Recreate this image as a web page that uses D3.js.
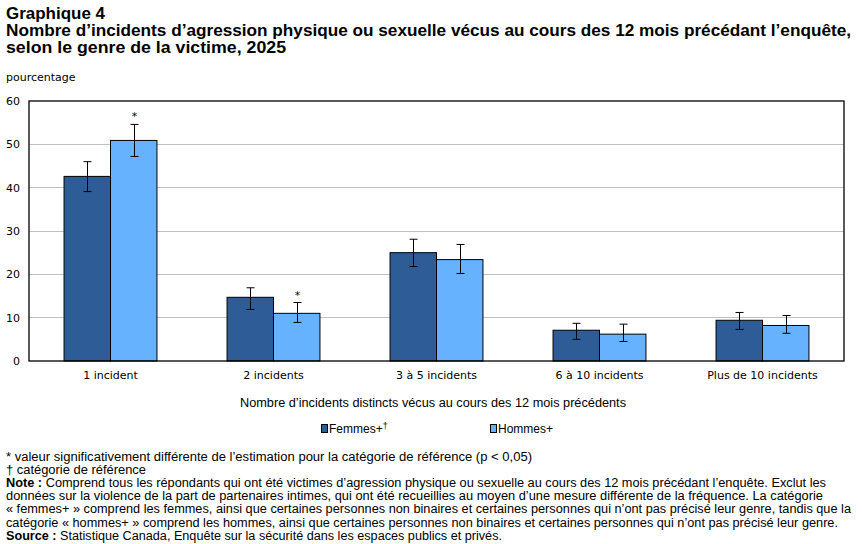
<!DOCTYPE html>
<html>
<head>
<meta charset="utf-8">
<script src="https://cdn.jsdelivr.net/npm/d3@7"></script>
<style>
body { margin: 0; background: #fff; }
svg text { fill: #000; }
</style>
</head>
<body>
<script>
// data
var categories = ["1 incident", "2 incidents", "3 à 5 incidents", "6 à 10 incidents", "Plus de 10 incidents"];
var seriesNames = ["Femmes+", "Hommes+"];
var femmes = [42.6, 14.7, 25.0, 7.1, 9.4];
var femmesLow = [39.1, 11.9, 21.8, 5.0, 7.3];
var femmesHigh = [46.0, 16.9, 28.1, 8.7, 11.2];
var hommes = [50.9, 11.0, 23.4, 6.2, 8.2];
var hommesLow = [47.2, 8.9, 20.2, 4.5, 6.4];
var hommesHigh = [54.6, 13.5, 26.9, 8.5, 10.5];
var hommesSig = [true, true, false, false, false];
var yTicks = [0, 10, 20, 30, 40, 50, 60];

var colors = ["#2E5C97", "#66B2FF"];

var width = 862, height = 544;
var margin = {top: 101, right: 18, bottom: 183, left: 29};

var svg = d3.select("body").append("svg")
    .attr("width", width)
    .attr("height", height)
    .style("font-family", "'DejaVu Sans', Verdana, sans-serif");

// title
var title = svg.append("g").style("font-family", "'Liberation Sans', Arial, sans-serif")
    .style("font-weight", "bold").style("font-size", "16px");
title.append("text").attr("x", 6).attr("y", 19).attr("textLength", 99).attr("lengthAdjust", "spacingAndGlyphs")
    .text("Graphique 4");
title.append("text").attr("x", 6).attr("y", 36).attr("textLength", 845).attr("lengthAdjust", "spacingAndGlyphs")
    .text("Nombre d’incidents d’agression physique ou sexuelle vécus au cours des 12 mois précédant l’enquête,");
title.append("text").attr("x", 6).attr("y", 53).attr("textLength", 280).attr("lengthAdjust", "spacingAndGlyphs")
    .text("selon le genre de la victime, 2025");

svg.append("text").attr("x", 6).attr("y", 81).style("font-size", "11px")
    .text("pourcentage");

var x = d3.scaleBand().domain(categories)
    .range([margin.left, width - margin.right])
    .paddingInner(0.43).paddingOuter(0.215);
var x1 = d3.scaleBand().domain(seriesNames).range([0, x.bandwidth()]);
var y = d3.scaleLinear().domain([0, 60]).range([height - margin.bottom, margin.top]);

// gridlines
svg.append("g").selectAll("line").data(yTicks.slice(1, -1)).join("line")
    .attr("x1", margin.left).attr("x2", width - margin.right)
    .attr("y1", d => y(d)).attr("y2", d => y(d))
    .attr("stroke", "#c0c0c0").attr("stroke-width", 1).attr("shape-rendering", "crispEdges");

var yAxis = svg.append("g").attr("transform", "translate(" + margin.left + ",0)")
    .call(d3.axisLeft(y).tickValues(yTicks).tickSize(0).tickPadding(9));
yAxis.select(".domain").remove();
yAxis.selectAll("text").style("font-size", "11px").style("font-family", "'DejaVu Sans', Verdana, sans-serif").attr("fill", "#000");

var rows = categories.map(function(c, i) {
    return [
        {cat: c, s: seriesNames[0], v: femmes[i], lo: femmesLow[i], hi: femmesHigh[i], sig: false},
        {cat: c, s: seriesNames[1], v: hommes[i], lo: hommesLow[i], hi: hommesHigh[i], sig: hommesSig[i]}
    ];
}).flat();

svg.append("g").selectAll("rect").data(rows).join("rect")
    .attr("x", d => x(d.cat) + x1(d.s))
    .attr("y", d => y(d.v))
    .attr("width", x1.bandwidth())
    .attr("height", d => y(0) - y(d.v))
    .attr("fill", (d, i) => colors[seriesNames.indexOf(d.s)])
    .attr("stroke", "#000").attr("stroke-width", 1);

// error bars
var err = svg.append("g").attr("stroke", "#000").attr("stroke-width", 1);
rows.forEach(function(d) {
    var cx = Math.round(x(d.cat) + x1(d.s) + x1.bandwidth() / 2) + 0.5;
    err.append("line").attr("x1", cx).attr("x2", cx).attr("y1", y(d.lo)).attr("y2", y(d.hi));
    err.append("line").attr("x1", cx - 4).attr("x2", cx + 4).attr("y1", y(d.lo)).attr("y2", y(d.lo));
    err.append("line").attr("x1", cx - 4).attr("x2", cx + 4).attr("y1", y(d.hi)).attr("y2", y(d.hi));
    if (d.sig) {
        svg.append("text").attr("x", cx).attr("y", y(d.hi) - 4)
            .attr("text-anchor", "middle").style("font-size", "11px").text("*");
    }
});

// plot frame
svg.append("rect").attr("x", margin.left).attr("y", margin.top)
    .attr("width", width - margin.left - margin.right)
    .attr("height", height - margin.top - margin.bottom)
    .attr("fill", "none").attr("stroke", "#000").attr("stroke-width", 1.3);

var xAxis = svg.append("g").attr("transform", "translate(0," + y(0) + ")")
    .call(d3.axisBottom(x).tickSize(0).tickPadding(10));
xAxis.select(".domain").remove();
xAxis.selectAll("text").style("font-size", "11px").style("font-family", "'DejaVu Sans', Verdana, sans-serif").attr("fill", "#000");

svg.append("text").attr("x", 240).attr("y", 407)
    .attr("textLength", 386).attr("lengthAdjust", "spacingAndGlyphs")
    .style("font-family", "'Liberation Sans', Arial, sans-serif").style("font-size", "12px")
    .text("Nombre d’incidents distincts vécus au cours des 12 mois précédents");

// legend
var legendX = [321, 490];
var legend = svg.append("g").style("font-family", "'Liberation Sans', Arial, sans-serif").style("font-size", "12px");
seriesNames.forEach(function(s, i) {
    legend.append("rect").attr("x", legendX[i] + 0.5).attr("y", 424.5).attr("width", 6).attr("height", 8)
        .attr("fill", colors[i]).attr("stroke", "#000").attr("stroke-width", 1);
    var t = legend.append("text").attr("x", legendX[i] + 8).attr("y", 433).text(s);
    if (i === 0) t.append("tspan").attr("dy", -4).style("font-size", "9px").text("†");
});

// notes
var notes = [
    {b: "", t: "* valeur significativement différente de l’estimation pour la catégorie de référence (p < 0,05)", w: 526},
    {b: "", t: "† catégorie de référence", w: 140},
    {b: "Note : ", t: "Comprend tous les répondants qui ont été victimes d’agression physique ou sexuelle au cours des 12 mois précédant l’enquête. Exclut les", w: 820},
    {b: "", t: "données sur la violence de la part de partenaires intimes, qui ont été recueillies au moyen d’une mesure différente de la fréquence. La catégorie", w: 817},
    {b: "", t: "« femmes+ » comprend les femmes, ainsi que certaines personnes non binaires et certaines personnes qui n’ont pas précisé leur genre, tandis que la", w: 845},
    {b: "", t: "catégorie « hommes+ » comprend les hommes, ainsi que certaines personnes non binaires et certaines personnes qui n’ont pas précisé leur genre.", w: 832},
    {b: "Source : ", t: "Statistique Canada, Enquête sur la sécurité dans les espaces publics et privés.", w: 496}
];
var ng = svg.append("g").style("font-family", "'Liberation Sans', Arial, sans-serif").style("font-size", "12px");
notes.forEach(function(n, i) {
    var t = ng.append("text").attr("x", 6).attr("y", 461 + i * 13.1)
        .attr("textLength", n.w).attr("lengthAdjust", "spacingAndGlyphs");
    if (n.b) t.append("tspan").style("font-weight", "bold").text(n.b);
    t.append("tspan").text(n.t);
});
</script>
</body>
</html>
